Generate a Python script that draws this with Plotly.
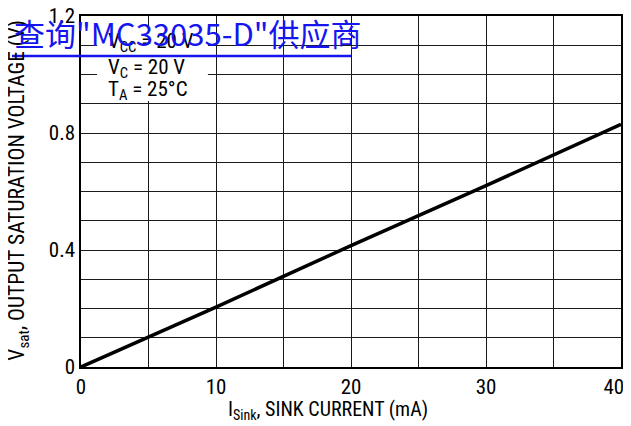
import plotly.graph_objects as go

# Data
sink_current_ma = [0, 10, 20, 30, 40]
vsat_v = [0.0, 0.205, 0.415, 0.62, 0.83]

x_tickvals = [0, 5, 10, 15, 20, 25, 30, 35, 40]
x_ticktext = ["0", "", "10", "", "20", "", "30", "", "40\u00a0\u00a0\u00a0"]
y_tickvals = [0, 0.1, 0.2, 0.3, 0.4, 0.5, 0.6, 0.7, 0.8, 0.9, 1.0, 1.1, 1.2]
y_ticktext = ["0", "", "", "", "0.4", "", "", "", "0.8", "", "", "", "1.2"]

cond_lines = ["V<sub>CC</sub> = 20 V", "V<sub>C</sub> = 20 V", "T<sub>A</sub> = 25°C"]
cond_y = [1.108, 1.022, 0.947]

FONT = "Liberation Sans Narrow, Arial Narrow, Roboto Condensed, Liberation Sans, sans-serif"

fig = go.Figure()
fig.add_trace(go.Scatter(x=sink_current_ma, y=vsat_v, mode="lines",
                         line=dict(color="black", width=3.5), showlegend=False))

axis_common = dict(showgrid=True, gridcolor="#1a1a1a", gridwidth=1.3,
                   zeroline=False, showline=True, linecolor="black", linewidth=1.5,
                   mirror=True, ticks="", ticklabeloverflow="allow",
                   tickfont=dict(size=21, color="black", family=FONT))

fig.update_xaxes(range=[0, 40], tickvals=x_tickvals, ticktext=x_ticktext, **axis_common)
fig.update_yaxes(range=[0, 1.2], tickvals=y_tickvals, ticktext=y_ticktext, **axis_common)

# white box for conditions
fig.add_shape(type="rect", xref="x", yref="y", x0=1.19, x1=9.4, y0=0.909, y1=1.159,
              fillcolor="white", line=dict(width=0), layer="above")
for t, yy in zip(cond_lines, cond_y):
    fig.add_annotation(x=1.85, y=yy, xref="x", yref="y", text=t, showarrow=False,
                       xanchor="left", yanchor="middle",
                       font=dict(size=21, color="black", family=FONT))

# axis titles
fig.add_annotation(x=0.457, y=-0.1225, xref="paper", yref="paper", yanchor="middle",
                   text="I<sub>Sink</sub>, SINK CURRENT (mA)", showarrow=False,
                   font=dict(size=20, color="black", family=FONT))
fig.add_annotation(x=-0.115, y=0.505, xref="paper", yref="paper", textangle=-90,
                   xanchor="center", yanchor="middle",
                   text="V<sub>sat</sub>, OUTPUT SATURATION VOLTAGE (V)", showarrow=False,
                   font=dict(size=21.5, color="black", family=FONT))

# blue overlay link text
fig.add_annotation(x=-0.1278, y=0.9516, xref="paper", yref="paper", xanchor="left", yanchor="middle",
                   text="查询\"MC33035-D\"供应商", showarrow=False,
                   font=dict(size=31, color="#1515f0", family="Noto Sans CJK SC"))
fig.add_shape(type="line", xref="paper", yref="paper", x0=-0.1278, x1=0.5, y0=0.886, y1=0.886,
              line=dict(color="#1515f0", width=2.5), layer="above")

fig.update_layout(width=640, height=418,
                  margin=dict(l=73, r=27, t=8, b=59, autoexpand=False),
                  paper_bgcolor="white", plot_bgcolor="white")

fig.write_html("out.html")
